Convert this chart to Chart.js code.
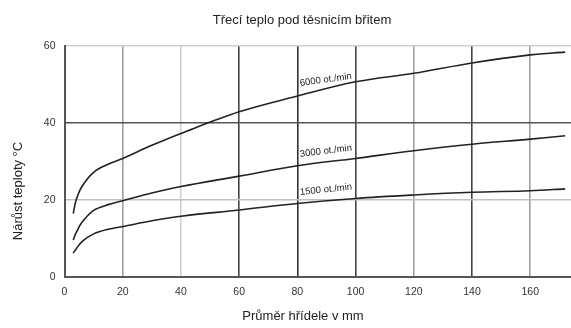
<!DOCTYPE html>
<html>
<head>
<meta charset="utf-8">
<script src="https://cdn.jsdelivr.net/npm/chart.js@4/dist/chart.umd.min.js"></script>
<style>
html,body{margin:0;padding:0;background:#fff;}
#wrap{width:571px;height:328px;}
</style>
</head>
<body>
<div id="wrap"><canvas id="c" width="571" height="328"></canvas></div>
<script>
// ---- data ----
const diameters = [3, 4, 6, 10, 15, 20, 30, 40, 60, 80, 100, 120, 140, 160, 172];
const rise6000 = [16.5, 20.0, 23.5, 27.2, 29.3, 30.8, 34.2, 37.3, 42.9, 47.0, 50.7, 52.9, 55.6, 57.7, 58.4];
const rise3000 = [9.6, 11.5, 14.2, 17.3, 18.8, 19.8, 21.8, 23.5, 26.2, 28.9, 30.8, 32.8, 34.5, 35.8, 36.7];
const rise1500 = [6.2, 7.3, 9.2, 11.2, 12.4, 13.1, 14.6, 15.8, 17.4, 19.1, 20.4, 21.3, 22.0, 22.4, 22.9];
const seriesNames = ['6000 ot./min', '3000 ot./min', '1500 ot./min'];
const xTicks = [0, 20, 40, 60, 80, 100, 120, 140, 160];
const yTicks = [0, 20, 40, 60];
const chartTitle = 'Třecí teplo pod těsnicím břitem';
const xTitle = 'Průměr hřídele v mm';
const yTitle = 'Nárůst teploty °C';
// label anchors (data units) and tilt
const labelX = [81, 81, 81];
const labelY = [49.6, 31.2, 21.3];
const labelTilt = [8, 7, 6];

// grid line styles per tick
const xGridColors = ['#555', '#a0a0a0', '#d0d0d0', '#444', '#333', '#444', '#a0a0a0', '#444', '#a0a0a0'];
const yGridColors = ['#555', '#c0c0c0', '#555', '#d0d0d0'];

const FONT = '"Liberation Sans", Arial, sans-serif';

function pts(ys){ return diameters.map((x,i)=>({x:x, y:ys[i]})); }

const textPlugin = {
  id: 'texts',
  afterDraw(chart){
    const ctx = chart.ctx;
    const xs = chart.scales.x, ys = chart.scales.y;
    ctx.save();
    ctx.fillStyle = '#222';
    ctx.font = '13px ' + FONT;
    ctx.textAlign = 'center';
    ctx.textBaseline = 'middle';
    ctx.fillText(chartTitle, 302, 20);
    ctx.fillText(xTitle, 303, 316);
    ctx.save();
    ctx.translate(18, 191);
    ctx.rotate(-Math.PI/2);
    ctx.fillText(yTitle, 0, 0);
    ctx.restore();
    // curve labels
    ctx.font = '9.5px ' + FONT;
    ctx.textAlign = 'left';
    ctx.textBaseline = 'alphabetic';
    ctx.fillStyle = '#222';
    for (let i=0;i<seriesNames.length;i++){
      const px = xs.getPixelForValue(labelX[i]);
      const py = ys.getPixelForValue(labelY[i]);
      ctx.save();
      ctx.translate(px, py);
      ctx.rotate(-labelTilt[i]*Math.PI/180);
      ctx.fillText(seriesNames[i], 0, 0);
      ctx.restore();
    }
    ctx.restore();
  }
};

const lineStyle = {borderColor:'#222', borderWidth:1.6, pointRadius:0, fill:false, tension:0.35};

new Chart(document.getElementById('c'), {
  type: 'line',
  data: {
    datasets: [
      Object.assign({label: seriesNames[0], data: pts(rise6000)}, lineStyle),
      Object.assign({label: seriesNames[1], data: pts(rise3000)}, lineStyle),
      Object.assign({label: seriesNames[2], data: pts(rise1500)}, lineStyle)
    ]
  },
  options: {
    responsive: false,
    animation: false,
    layout: {padding: {left: 0, top: 46, right: 0, bottom: 0}},
    plugins: {legend: {display:false}, title: {display:false}, tooltip: {enabled:false}},
    scales: {
      x: {
        type: 'linear', min: 0, max: 174,
        afterBuildTicks(s){ s.ticks = xTicks.map(v=>({value:v})); },
        afterFit(s){ s.height = 51; },
        grid: {
          color: (c)=> xGridColors[c.index] || '#aaa',
          lineWidth: 1.6,
          drawTicks: false
        },
        border: {display: true, color: '#555', width: 2},
        ticks: {color:'#333', font:{family: FONT, size: 10.5}, padding: 9, maxRotation:0}
      },
      y: {
        type: 'linear', min: 0, max: 60,
        afterBuildTicks(s){ s.ticks = yTicks.map(v=>({value:v})); },
        afterFit(s){ s.width = 64.5; },
        grid: {
          color: (c)=> yGridColors[c.index] || '#aaa',
          lineWidth: 1.6,
          drawTicks: false
        },
        border: {display: true, color: '#555', width: 2},
        ticks: {color:'#333', font:{family: FONT, size: 10.5}, padding: 9}
      }
    }
  },
  plugins: [textPlugin]
});
</script>
</body>
</html>
